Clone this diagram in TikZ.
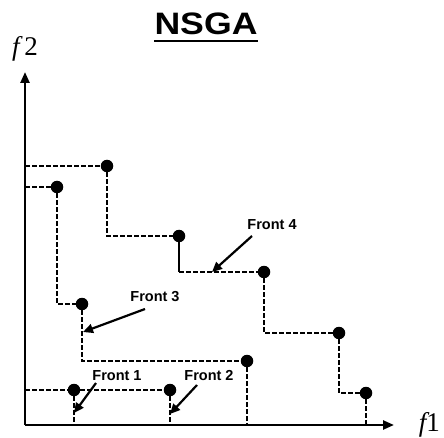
\documentclass[tikz,border=0pt]{standalone}
\usepackage{fontspec}
\setmainfont{Liberation Sans}
\newfontfamily\serifff{Liberation Serif}
\usetikzlibrary{arrows.meta}
\begin{document}
\begin{tikzpicture}[x=1pt,y=-1pt,
  dot/.style={circle,fill=black,inner sep=0pt,minimum size=12.5pt},
  dline/.style={line width=2pt,dash pattern=on 4.5pt off 2.5pt},
  sline/.style={line width=2pt},
  axis/.style={line width=2.4pt,-{Triangle[length=11pt,width=9pt]}},
  pointer/.style={line width=2.2pt,-{Triangle[length=10pt,width=9pt]}},
  flabel/.style={font=\fontsize{14.5}{14.5}\selectfont\bfseries,inner sep=1pt},
  axlabel/.style={font=\serifff\fontsize{27}{27}\selectfont,inner sep=0pt}]
\useasboundingbox (0,0) rectangle (444,438);
% title
\node[anchor=base,xscale=1.15,font=\fontsize{31}{31}\selectfont\bfseries,inner sep=0pt] (title) at (206,35) {NSGA};
\draw[line width=2.4pt] (title.south west |- 0,41) coordinate (u1) -- (title.south east |- 0,41) coordinate (u2);
% axes
\coordinate (O) at (25,425);
\coordinate (ytop) at (25,72);
\coordinate (xend) at (394,425);
\node[axlabel,anchor=base] (f2) at (25,56) {\itshape f\upshape\,2};
\node[axlabel,anchor=base east] (f1) at (440,431) {\itshape f\upshape 1};
% front 4
\coordinate (a4) at (25,166);
\node[dot] (p41) at (107,166) {};
\node[dot] (p42) at (179,236) {};
\coordinate (c42) at (179,272);
\node[dot] (p43) at (264,272) {};
\node[dot] (p44) at (339,333) {};
\node[dot] (p45) at (366,393) {};
\coordinate (b45) at (366,425);
\draw[dline] (a4) -- (p41);
\draw[dline] (p41) |- (p42);
\draw[sline] (p42) -- (c42);
\draw[dline] (c42) -- (p43);
\draw[dline] (p43) |- (p44);
\draw[dline] (p44) |- (p45);
\draw[dline] (p45) -- (b45);
% front 3
\coordinate (a3) at (25,187);
\node[dot] (p31) at (57,187) {};
\node[dot] (p32) at (82,304) {};
\node[dot] (p33) at (247,361) {};
\coordinate (b33) at (247,425);
\draw[dline] (a3) -- (p31);
\draw[dline] (p31) |- (p32);
\draw[dline] (p32) |- (p33);
\draw[dline] (p33) -- (b33);
% fronts 1 and 2
\coordinate (a1) at (25,390);
\node[dot] (p11) at (74,390) {};
\node[dot] (p21) at (170,390) {};
\coordinate (b11) at (74,425);
\coordinate (b21) at (170,425);
\draw[dline] (a1) -- (p11);
\draw[dline] (p11) -- (p21);
\draw[dline] (p11) -- (b11);
\draw[dline] (p21) -- (b21);
% axes on top
\draw[axis] (O) -- (ytop);
\draw[axis] (O) -- (xend);
% labels
\node[flabel] (l4) at (272,225) {Front 4};
\node[flabel] (l3) at (155,297) {Front 3};
\node[flabel] (l1) at (117,376) {Front 1};
\node[flabel] (l2) at (209,376) {Front 2};
\coordinate (s4) at (252,236); \coordinate (t4) at (212,272);
\coordinate (s3) at (145,309); \coordinate (t3) at (83,332);
\coordinate (s1) at (96,383);  \coordinate (t1) at (74,413);
\coordinate (s2) at (197,385); \coordinate (t2) at (170,414);
\draw[pointer] (s4) -- (t4);
\draw[pointer] (s3) -- (t3);
\draw[pointer] (s1) -- (t1);
\draw[pointer] (s2) -- (t2);
\end{tikzpicture}
\end{document}
